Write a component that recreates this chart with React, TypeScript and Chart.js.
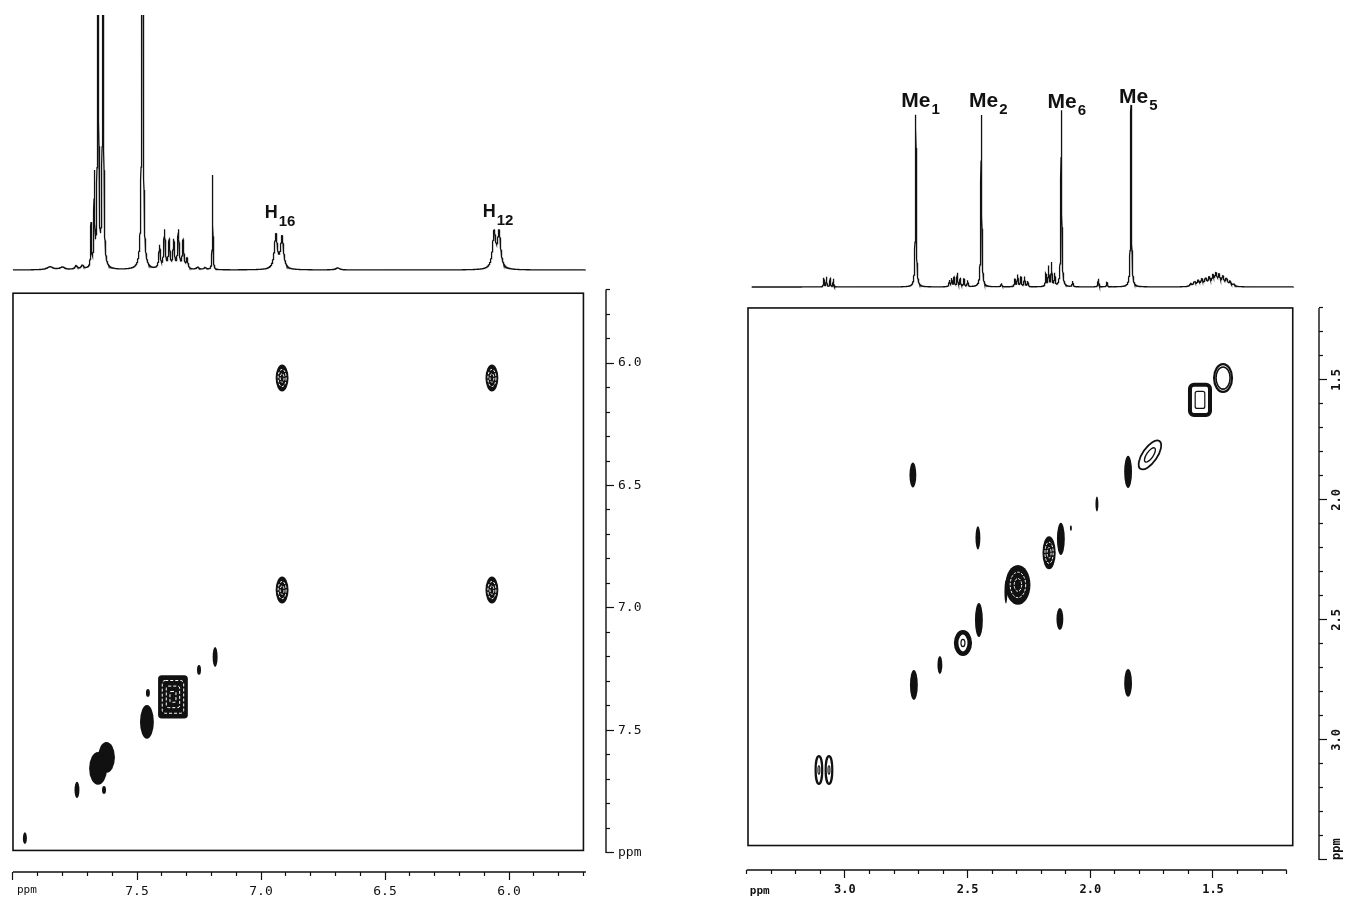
import React, { useEffect, useRef } from 'react';
import { Chart, registerables } from 'chart.js';

Chart.register(...registerables);

const INK = '#111111';
const MONO = '"DejaVu Sans Mono", monospace';
const SANS = '"Liberation Sans", Arial, sans-serif';
const TRACE_STEP = 0.0004;

// ================= LEFT PANEL : aromatic region =================
// 1D trace read off the picture as a peak list: position (ppm), relative height, half width (ppm)
const L_PEAK_PPM = [7.85, 7.80, 7.745, 7.72, 7.685, 7.672, 7.657, 7.637, 7.478, 7.409, 7.389, 7.370, 7.352, 7.333, 7.314, 7.298, 7.255, 7.225, 7.195, 6.940, 6.915, 6.690, 6.060, 6.040];
const L_PEAK_HEIGHT = [0.012, 0.01, 0.014, 0.015, 0.17, 0.35, 5.0, 5.0, 6.0, 0.09, 0.15, 0.11, 0.11, 0.15, 0.11, 0.04, 0.01, 0.008, 0.38, 0.135, 0.125, 0.008, 0.14, 0.14];
const L_PEAK_HALFWIDTH = [0.015, 0.012, 0.006, 0.006, 0.0018, 0.0018, 0.0012, 0.0012, 0.0015, 0.0035, 0.0035, 0.0035, 0.0035, 0.0035, 0.0035, 0.004, 0.006, 0.006, 0.0013, 0.007, 0.007, 0.01, 0.0075, 0.0075];
const L_TRACE_RANGE = [8.0, 5.69];

const L_LABEL_TEXT = ['H', 'H'];
const L_LABEL_SUB = ['16', '12'];
const L_LABEL_PPM = [6.985, 6.106];
const L_LABEL_LEVEL = [0.204, 0.208];

// 2D COSY peaks: F2 (horizontal), F1 (vertical), contour half extents (ppm), contour type
const L_XPK_F2 = [6.915, 6.069, 6.915, 6.069, 7.185, 7.250, 7.355, 7.456, 7.460, 7.623, 7.657, 7.633, 7.742, 7.952];
const L_XPK_F1 = [6.061, 6.061, 6.927, 6.927, 7.200, 7.253, 7.363, 7.347, 7.465, 7.610, 7.655, 7.743, 7.743, 7.940];
const L_XPK_HW_F2 = [0.026, 0.026, 0.026, 0.026, 0.010, 0.008, 0.060, 0.008, 0.028, 0.034, 0.036, 0.008, 0.010, 0.008];
const L_XPK_HW_F1 = [0.055, 0.055, 0.055, 0.055, 0.041, 0.020, 0.088, 0.016, 0.069, 0.063, 0.067, 0.016, 0.033, 0.024];
const L_XPK_KIND = ['R', 'R', 'R', 'R', 'S', 'S', 'Q', 'S', 'S', 'S', 'S', 'S', 'S', 'S'];

const L_TICKS_F2 = [8.0, 7.9, 7.8, 7.7, 7.6, 7.5, 7.4, 7.3, 7.2, 7.1, 7.0, 6.9, 6.8, 6.7, 6.6, 6.5, 6.4, 6.3, 6.2, 6.1, 6.0, 5.9, 5.8, 5.7];
const L_TICKS_F1 = [5.7, 5.8, 5.9, 6.0, 6.1, 6.2, 6.3, 6.4, 6.5, 6.6, 6.7, 6.8, 6.9, 7.0, 7.1, 7.2, 7.3, 7.4, 7.5, 7.6, 7.7, 7.8, 7.9, 8.0];
const L_RANGE_F2 = [5.609, 8.004];
const L_RANGE_F1 = [5.710, 8.078];
const L_BOX_F2 = [8.0, 5.70];
const L_BOX_F1 = [5.715, 7.99];
const L_AXIS_F2 = [8.0, 5.69];
const L_AXIS_F1 = [5.70, 8.0];

// ================= RIGHT PANEL : aliphatic region =================
const R_PEAK_PPM = [3.086, 3.075, 3.060, 3.047, 2.711, 2.574, 2.565, 2.555, 2.542, 2.530, 2.515, 2.500, 2.444, 2.362, 2.307, 2.296, 2.283, 2.268, 2.255, 2.181, 2.170, 2.158, 2.145, 2.118, 2.072, 1.967, 1.932, 1.834, 1.590, 1.575, 1.560, 1.545, 1.530, 1.515, 1.500, 1.488, 1.475, 1.460, 1.445, 1.430, 1.415];
const R_PEAK_HEIGHT = [0.05, 0.055, 0.05, 0.045, 0.955, 0.035, 0.045, 0.05, 0.075, 0.045, 0.045, 0.035, 0.945, 0.02, 0.04, 0.065, 0.055, 0.055, 0.03, 0.07, 0.11, 0.13, 0.07, 0.97, 0.03, 0.045, 0.025, 1.0, 0.015, 0.025, 0.03, 0.035, 0.04, 0.045, 0.05, 0.06, 0.055, 0.05, 0.04, 0.025, 0.012];
const R_PEAK_HALFWIDTH = [0.0015, 0.0015, 0.0015, 0.0015, 0.002, 0.002, 0.002, 0.002, 0.002, 0.002, 0.002, 0.002, 0.002, 0.002, 0.0022, 0.0022, 0.0022, 0.0022, 0.0022, 0.002, 0.002, 0.002, 0.002, 0.002, 0.002, 0.002, 0.002, 0.002, 0.005, 0.005, 0.005, 0.005, 0.005, 0.005, 0.005, 0.005, 0.005, 0.005, 0.005, 0.005, 0.005];
const R_TRACE_RANGE = [3.38, 1.17];

const R_LABEL_TEXT = ['Me', 'Me', 'Me', 'Me'];
const R_LABEL_SUB = ['1', '2', '6', '5'];
const R_LABEL_PPM = [2.770, 2.4945, 2.174, 1.883];
const R_LABEL_LEVEL = [0.989, 0.989, 0.984, 1.011];

const R_XPK_F2 = [1.459, 1.553, 1.757, 1.846, 1.973, 2.120, 2.079, 2.168, 2.295, 2.344, 2.454, 2.458, 2.723, 2.124, 2.519, 2.613, 2.719, 1.846, 3.106, 3.065];
const R_XPK_F1 = [1.492, 1.583, 1.8125, 1.883, 2.017, 2.1625, 2.117, 2.220, 2.354, 2.383, 2.500, 2.158, 1.896, 2.496, 2.596, 2.6875, 2.771, 2.7625, 3.125, 3.125];
const R_XPK_HW_F2 = [0.041, 0.049, 0.030, 0.016, 0.006, 0.016, 0.004, 0.027, 0.051, 0.006, 0.016, 0.010, 0.014, 0.014, 0.037, 0.010, 0.016, 0.016, 0.018, 0.018];
const R_XPK_HW_F1 = [0.0625, 0.071, 0.070, 0.067, 0.031, 0.067, 0.012, 0.069, 0.083, 0.048, 0.071, 0.048, 0.052, 0.046, 0.054, 0.0375, 0.0625, 0.058, 0.0625, 0.0625];
const R_XPK_KIND = ['O', 'B', 'L', 'S', 'S', 'S', 'S', 'R', 'R', 'S', 'S', 'S', 'S', 'S', 'T', 'S', 'S', 'S', 'T', 'T'];

const R_TICKS_F2 = [3.4, 3.3, 3.2, 3.1, 3.0, 2.9, 2.8, 2.7, 2.6, 2.5, 2.4, 2.3, 2.2, 2.1, 2.0, 1.9, 1.8, 1.7, 1.6, 1.5, 1.4, 1.3, 1.2];
const R_TICKS_F1 = [1.2, 1.3, 1.4, 1.5, 1.6, 1.7, 1.8, 1.9, 2.0, 2.1, 2.2, 2.3, 2.4, 2.5, 2.6, 2.7, 2.8, 2.9, 3.0, 3.1, 3.2, 3.3, 3.4, 3.5];
const R_RANGE_F2 = [1.068, 3.395];
const R_RANGE_F1 = [1.196, 3.542];
const R_BOX_F2 = [3.395, 1.175];
const R_BOX_F1 = [1.2, 3.44];
const R_AXIS_F2 = [3.4, 1.2];
const R_AXIS_F1 = [1.2, 3.5];

// ================= helpers =================
function isMajor(v: number) {
  return Math.abs(v * 2 - Math.round(v * 2)) < 1e-6;
}

function lorentzTrace(range: number[], ppm: number[], height: number[], hw: number[]) {
  const pts: { x: number; y: number }[] = [];
  const n = Math.round((range[0] - range[1]) / TRACE_STEP);
  for (let i = 0; i <= n; i++) {
    const x = range[0] - i * TRACE_STEP;
    let y = 0;
    for (let k = 0; k < ppm.length; k++) {
      const d = x - ppm[k];
      const g2 = hw[k] * hw[k];
      y += (height[k] * g2) / (d * d + g2);
    }
    pts.push({ x, y });
  }
  return pts;
}

function peakLabelPlugin(texts: string[], subs: string[], ppms: number[], levels: number[], mainFont: string, subFont: string, subDrop: number) {
  return {
    id: 'peakLabels',
    afterDatasetsDraw(chart: any) {
      const { ctx, scales } = chart;
      ctx.save();
      ctx.fillStyle = INK;
      ctx.textBaseline = 'alphabetic';
      ctx.textAlign = 'left';
      texts.forEach((t, i) => {
        const px = scales.x.getPixelForValue(ppms[i]);
        const py = scales.y.getPixelForValue(levels[i]);
        ctx.font = mainFont;
        ctx.fillText(t, px, py);
        const w = ctx.measureText(t).width;
        ctx.font = subFont;
        ctx.fillText(subs[i], px + w + 1, py + subDrop);
      });
      ctx.restore();
    },
  };
}

function spectrumConfig(trace: any[], xRange: number[], yRange: number[], padding: any, labelPlugin: any) {
  return {
    type: 'line',
    data: {
      datasets: [
        { data: trace, borderColor: INK, borderWidth: 1.3, pointRadius: 0, tension: 0, fill: false },
      ],
    },
    options: {
      responsive: false,
      animation: false,
      events: [],
      parsing: false,
      normalized: true,
      layout: { padding },
      plugins: { legend: { display: false }, tooltip: { enabled: false } },
      scales: {
        x: { type: 'linear', reverse: true, min: xRange[0], max: xRange[1], display: false },
        y: { type: 'linear', min: yRange[0], max: yRange[1], display: false },
      },
    },
    plugins: [labelPlugin],
  };
}

function drawPeak(ctx: CanvasRenderingContext2D, kind: string, cx: number, cy: number, rx: number, ry: number) {
  const ell = (a: number, b: number, rot = 0) => {
    ctx.beginPath();
    ctx.ellipse(cx, cy, Math.max(a, 0.6), Math.max(b, 0.6), rot, 0, Math.PI * 2);
  };
  const rr = (a: number, b: number, r: number) => {
    ctx.beginPath();
    (ctx as any).roundRect(cx - a, cy - b, 2 * a, 2 * b, r);
  };
  ctx.save();
  ctx.fillStyle = INK;
  ctx.strokeStyle = INK;
  ctx.setLineDash([]);
  if (kind === 'S') {
    ell(rx, ry);
    ctx.fill();
  } else if (kind === 'R') {
    ell(rx, ry);
    ctx.fill();
    ctx.strokeStyle = '#ffffff';
    ctx.lineWidth = 1;
    ctx.setLineDash([2.5, 1.5]);
    ell(rx * 0.62, ry * 0.64);
    ctx.stroke();
    ell(rx * 0.3, ry * 0.32);
    ctx.stroke();
  } else if (kind === 'Q') {
    rr(rx, ry, Math.min(rx, ry) * 0.25);
    ctx.fill();
    ctx.strokeStyle = '#ffffff';
    ctx.lineWidth = 1;
    ctx.setLineDash([3, 2]);
    rr(rx * 0.72, ry * 0.76, 3);
    ctx.stroke();
    rr(rx * 0.45, ry * 0.5, 2);
    ctx.stroke();
    rr(rx * 0.2, ry * 0.25, 1);
    ctx.stroke();
  } else if (kind === 'O') {
    ctx.lineWidth = 2.2;
    ell(rx - 1.1, ry - 1.1);
    ctx.stroke();
    ctx.lineWidth = 1.6;
    ell(rx * 0.7, ry * 0.74);
    ctx.stroke();
  } else if (kind === 'T') {
    const lw = Math.max(2, Math.min(rx, ry) * 0.5);
    ctx.lineWidth = lw;
    ell(rx - lw / 2, ry - lw / 2);
    ctx.stroke();
    ctx.lineWidth = 1.2;
    ell(rx * 0.22, ry * 0.28);
    ctx.stroke();
  } else if (kind === 'B') {
    ctx.lineWidth = 4;
    rr(rx - 2, ry - 2, 4);
    ctx.stroke();
    ctx.lineWidth = 1.2;
    rr(rx * 0.4, ry * 0.5, 2);
    ctx.stroke();
  } else if (kind === 'L') {
    ctx.lineWidth = 1.8;
    ell(rx, ry, 0.6);
    ctx.stroke();
    ctx.lineWidth = 1.4;
    ell(rx * 0.45, ry * 0.5, 0.6);
    ctx.stroke();
  }
  ctx.restore();
}

function nmr2dPlugin(cfg: any) {
  return {
    id: 'nmr2d',
    afterDraw(chart: any) {
      const { ctx, chartArea: ca } = chart;
      const xs = chart.scales.x;
      const ys = chart.scales.y;
      ctx.save();
      const bx0 = xs.getPixelForValue(cfg.boxF2[0]);
      const bx1 = xs.getPixelForValue(cfg.boxF2[1]);
      const by0 = ys.getPixelForValue(cfg.boxF1[0]);
      const by1 = ys.getPixelForValue(cfg.boxF1[1]);
      ctx.strokeStyle = INK;
      ctx.lineWidth = 1.6;
      ctx.strokeRect(bx0, by0, bx1 - bx0, by1 - by0);

      ctx.save();
      ctx.beginPath();
      ctx.rect(bx0, by0, bx1 - bx0, by1 - by0);
      ctx.clip();
      cfg.f2.forEach((p2: number, i: number) => {
        const p1 = cfg.f1[i];
        const cx = xs.getPixelForValue(p2);
        const cy = ys.getPixelForValue(p1);
        const rx = Math.abs(xs.getPixelForValue(p2 + cfg.hw2[i]) - cx);
        const ry = Math.abs(ys.getPixelForValue(p1 + cfg.hw1[i]) - cy);
        drawPeak(ctx, cfg.kind[i], cx, cy, rx, ry);
      });
      ctx.restore();

      ctx.strokeStyle = INK;
      ctx.lineWidth = 1.4;
      ctx.setLineDash([]);
      ctx.beginPath();
      ctx.moveTo(xs.getPixelForValue(cfg.axisF2[0]), ca.bottom);
      ctx.lineTo(xs.getPixelForValue(cfg.axisF2[1]), ca.bottom);
      ctx.moveTo(ca.right, ys.getPixelForValue(cfg.axisF1[0]));
      ctx.lineTo(ca.right, ys.getPixelForValue(cfg.axisF1[1]));
      ctx.stroke();

      ctx.fillStyle = INK;
      ctx.font = cfg.unitFont;
      ctx.textAlign = 'left';
      ctx.textBaseline = 'middle';
      ctx.fillText('ppm', xs.getPixelForValue(cfg.axisF2[0]) + cfg.unitDx, ca.bottom + cfg.labelDy);

      if (cfg.rotateF1) {
        ctx.font = cfg.tickFont;
        ys.ticks.forEach((t: any) => {
          const v = t.value;
          if (!isMajor(v)) return;
          const py = ys.getPixelForValue(v);
          const isUnit = Math.abs(v - cfg.axisF1[1]) < 1e-6;
          ctx.save();
          ctx.translate(ca.right + cfg.rotDx, py);
          ctx.rotate(-Math.PI / 2);
          ctx.textAlign = isUnit ? 'left' : 'center';
          ctx.textBaseline = 'middle';
          ctx.fillText(isUnit ? 'ppm' : v.toFixed(1), 0, 0);
          ctx.restore();
        });
      }
      ctx.restore();
    },
  };
}

function twoDConfig(o: any) {
  const gridOpts = {
    display: true,
    drawOnChartArea: false,
    drawTicks: true,
    tickLength: 8,
    color: INK,
    tickColor: INK,
    tickWidth: 1.2,
    tickBorderDash: (c: any) => (c.tick && isMajor(c.tick.value) ? [] : [4, 30]),
  };
  return {
    type: 'scatter',
    data: {
      datasets: [
        {
          data: o.f2.map((v: number, i: number) => ({ x: v, y: o.f1[i] })),
          pointRadius: 0,
          showLine: false,
        },
      ],
    },
    options: {
      responsive: false,
      animation: false,
      events: [],
      layout: { padding: { left: 12, top: 12, right: 0, bottom: 0 } },
      plugins: { legend: { display: false }, tooltip: { enabled: false } },
      scales: {
        x: {
          type: 'linear',
          position: 'bottom',
          reverse: true,
          min: o.rangeF2[0],
          max: o.rangeF2[1],
          afterBuildTicks: (s: any) => {
            s.ticks = o.ticksF2.map((v: number) => ({ value: v }));
          },
          afterFit: (s: any) => {
            s.height = o.xAxisH;
          },
          border: { display: false },
          grid: gridOpts,
          ticks: {
            autoSkip: false,
            maxRotation: 0,
            minRotation: 0,
            padding: o.xPad,
            color: INK,
            font: o.tickFontObj,
            callback: o.xLabel,
          },
        },
        y: {
          type: 'linear',
          position: 'right',
          reverse: true,
          min: o.rangeF1[0],
          max: o.rangeF1[1],
          afterBuildTicks: (s: any) => {
            s.ticks = o.ticksF1.map((v: number) => ({ value: v }));
          },
          afterFit: (s: any) => {
            s.width = o.yAxisW;
          },
          border: { display: false },
          grid: gridOpts,
          ticks: {
            display: !o.rotateF1,
            autoSkip: false,
            padding: 4,
            color: INK,
            font: o.tickFontObj,
            callback: o.yLabel,
          },
        },
      },
    },
    plugins: [nmr2dPlugin(o)],
  };
}

export default function App() {
  const lSpec = useRef<HTMLCanvasElement>(null);
  const l2d = useRef<HTMLCanvasElement>(null);
  const rSpec = useRef<HTMLCanvasElement>(null);
  const r2d = useRef<HTMLCanvasElement>(null);

  useEffect(() => {
    const charts: Chart[] = [];

    const lTrace = lorentzTrace(L_TRACE_RANGE, L_PEAK_PPM, L_PEAK_HEIGHT, L_PEAK_HALFWIDTH);
    charts.push(
      new Chart(
        lSpec.current as HTMLCanvasElement,
        spectrumConfig(
          lTrace,
          [5.6897, 8.004],
          [-0.0196, 1.0],
          { left: 12, right: 14, top: 15, bottom: 10 },
          peakLabelPlugin(L_LABEL_TEXT, L_LABEL_SUB, L_LABEL_PPM, L_LABEL_LEVEL, `bold 18px ${SANS}`, `bold 15px ${SANS}`, 8)
        ) as any
      )
    );

    const rTrace = lorentzTrace(R_TRACE_RANGE, R_PEAK_PPM, R_PEAK_HEIGHT, R_PEAK_HALFWIDTH);
    charts.push(
      new Chart(
        rSpec.current as HTMLCanvasElement,
        spectrumConfig(
          rTrace,
          [R_RANGE_F2[0], R_RANGE_F2[1]],
          [-0.044, 1.137],
          { left: 12, right: 26, top: 20, bottom: 5 },
          peakLabelPlugin(R_LABEL_TEXT, R_LABEL_SUB, R_LABEL_PPM, R_LABEL_LEVEL, `bold 21px ${SANS}`, `bold 15px ${SANS}`, 7)
        ) as any
      )
    );

    charts.push(
      new Chart(
        l2d.current as HTMLCanvasElement,
        twoDConfig({
          f2: L_XPK_F2,
          f1: L_XPK_F1,
          hw2: L_XPK_HW_F2,
          hw1: L_XPK_HW_F1,
          kind: L_XPK_KIND,
          ticksF2: L_TICKS_F2,
          ticksF1: L_TICKS_F1,
          rangeF2: L_RANGE_F2,
          rangeF1: L_RANGE_F1,
          boxF2: L_BOX_F2,
          boxF1: L_BOX_F1,
          axisF2: L_AXIS_F2,
          axisF1: L_AXIS_F1,
          xAxisH: 25,
          yAxisW: 74,
          xPad: 4,
          tickFontObj: { family: MONO, size: 13 },
          tickFont: `13px ${MONO}`,
          unitFont: `11px ${MONO}`,
          unitDx: 4,
          labelDy: 18,
          rotateF1: false,
          rotDx: 0,
          xLabel: (v: number) => (isMajor(v) && Math.abs(v - L_AXIS_F2[0]) > 1e-6 ? v.toFixed(1) : ''),
          yLabel: (v: number) => (Math.abs(v - L_AXIS_F1[1]) < 1e-6 ? 'ppm' : isMajor(v) ? v.toFixed(1) : ''),
        }) as any
      )
    );

    charts.push(
      new Chart(
        r2d.current as HTMLCanvasElement,
        twoDConfig({
          f2: R_XPK_F2,
          f1: R_XPK_F1,
          hw2: R_XPK_HW_F2,
          hw1: R_XPK_HW_F1,
          kind: R_XPK_KIND,
          ticksF2: R_TICKS_F2,
          ticksF1: R_TICKS_F1,
          rangeF2: R_RANGE_F2,
          rangeF1: R_RANGE_F1,
          boxF2: R_BOX_F2,
          boxF1: R_BOX_F1,
          axisF2: R_AXIS_F2,
          axisF1: R_AXIS_F1,
          xAxisH: 27,
          yAxisW: 26,
          xPad: 5,
          tickFontObj: { family: MONO, size: 12, weight: 'bold' },
          tickFont: `bold 12px ${MONO}`,
          unitFont: `bold 11px ${MONO}`,
          unitDx: 3,
          labelDy: 21,
          rotateF1: true,
          rotDx: 18,
          xLabel: (v: number) => (isMajor(v) ? v.toFixed(1) : ''),
          yLabel: () => '',
        }) as any
      )
    );

    return () => charts.forEach((c) => c.destroy());
  }, []);

  const abs = (left: number, top: number) => ({ position: 'absolute' as const, left, top, display: 'block' });

  return (
    <div style={{ position: 'absolute', left: 0, top: 0, width: 1345, height: 897, background: '#ffffff', overflow: 'hidden' }}>
      <canvas ref={lSpec} width={600} height={285} style={abs(0, 0)} />
      <canvas ref={l2d} width={680} height={617} style={abs(0, 280)} />
      <canvas ref={rSpec} width={609} height={240} style={abs(736, 60)} />
      <canvas ref={r2d} width={609} height={602} style={abs(736, 295)} />
    </div>
  );
}
